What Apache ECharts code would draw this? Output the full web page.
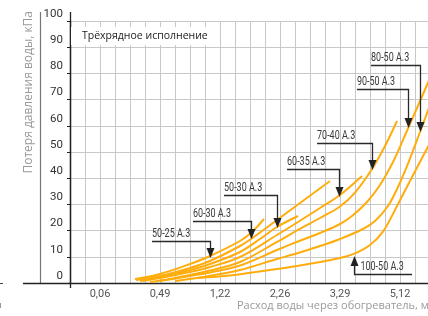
<!DOCTYPE html>
<html>
<head>
<meta charset="utf-8">
<script src="https://cdn.jsdelivr.net/npm/echarts@6/dist/echarts.min.js"></script>
<style>
html,body{margin:0;padding:0;background:#fff;}
#c{width:428px;height:316px;}
</style>
</head>
<body>
<div id="c"></div>
<script>
// ---- data (x in axis grid units, y in kPa) ----
const xTickPos = [2, 6, 10, 14, 18, 22];
const xTickLabels = ['0,06', '0,49', '1,22', '2,26', '3,29', '5,12'];
const seriesNames = ['50-25 A.3', '60-30 A.3', '50-30 A.3', '60-35 A.3', '70-40 A.3', '90-50 A.3', '80-50 A.3', '100-50 A.3'];
const c50_25 = [[4.333,1.53],[6.0,3.44],[8.0,7.25],[9.333,10.31],[11.333,16.03],[12.133,19.47],[12.933,24.43]];
const c60_30 = [[4.4,1.15],[6.0,2.67],[8.0,5.73],[9.333,8.40],[11.333,14.12],[12.067,16.79],[13.8,24.05],[15.2,29.96],[16.333,34.73],[17.333,38.93]];
const c50_30 = [[4.667,0.76],[6.0,2.29],[8.0,4.96],[9.333,7.25],[11.333,11.83],[12.667,16.79],[13.8,21.37],[15.2,25.57]];
const c60_35 = [[4.867,0.76],[6.0,1.91],[8.0,4.20],[9.333,6.11],[11.333,9.92],[13.8,18.32],[15.2,23.28],[16.667,28.63],[18.0,33.59],[19.467,40.84]];
const c70_40 = [[5.333,0.38],[6.667,1.53],[8.0,3.05],[9.333,4.77],[11.333,8.02],[13.8,15.65],[15.2,20.23],[16.667,24.81],[18.0,29.2],[19.0,34.5],[20.133,43.51],[21.0,52.29],[21.8,61.83]];
const c90_50 = [[6.0,0.76],[8.0,2.67],[9.333,4.01],[11.333,6.68],[13.8,12.60],[15.2,15.84],[16.667,19.08],[18.0,22.52],[18.8,25.57],[19.8,30.92],[20.667,37.40],[21.6,46.95],[22.4,57.25],[23.133,66.79],[24.0,78.24]];
const c80_50 = [[7.0,0.76],[8.667,2.10],[11.333,4.96],[13.8,9.16],[15.2,11.45],[16.667,14.12],[18.0,16.79],[19.533,20.61],[20.333,23.66],[21.2,29.39],[21.867,36.64],[22.6,46.56],[23.333,57.63],[24.0,67.94]];
const c100_50 = [[8.533,1.91],[10.667,2.86],[12.867,4.58],[15.133,6.49],[18.0,9.54],[19.0,11.3],[20.0,14.5],[20.867,19.6],[21.8,29.39],[22.667,38.93],[23.4,46.95],[24.0,53.44]];
const curves = [c50_25, c60_30, c50_30, c60_35, c70_40, c90_50, c80_50, c100_50];
// annotation: arrow tip on curve, and far end of the label leader line
const annTips = [[9.33,9.5],[12.07,16.8],[13.8,21.0],[17.93,32.8],[20.13,43.1],[22.53,59.2],[23.33,57.6],[18.93,10.3]];
const annEnds = [[5.47,16.0],[8.2,23.7],[10.27,33.6],[14.47,43.5],[16.47,53.4],[19.13,74.0],[20.07,83.2],[22.8,3.4]];

const chart = echarts.init(document.getElementById('c'), null, {renderer: 'canvas'});
const tickFont = "'Roboto', sans-serif";
const gridColor = '#c8c8c8';
const lineColor = '#FFAD0D';

chart.setOption({
  animation: false,
  backgroundColor: '#fff',
  grid: {left: 70, top: 21, width: 360, bottom: 33, containLabel: false, outerBoundsMode: 'none'},
  xAxis: {
    type: 'value', min: 0, max: 24, interval: 1,
    axisLine: {show: true, onZero: false, lineStyle: {color: '#222', width: 1.3}},
    axisTick: {show: false},
    splitLine: {show: true, lineStyle: {color: gridColor, width: 1}},
    axisLabel: {
      customValues: xTickPos,
      formatter: v => { const i = xTickPos.indexOf(Math.round(v)); return i >= 0 ? xTickLabels[i] : ''; },
      color: '#555', fontFamily: tickFont, fontSize: 11, margin: 6
    }
  },
  yAxis: {
    type: 'value', min: 0, max: 100, interval: 10,
    axisLine: {show: true, lineStyle: {color: '#222', width: 1.3}},
    axisTick: {show: true, length: 3, lineStyle: {color: '#222'}},
    splitLine: {show: true, lineStyle: {color: gridColor, width: 1}},
    axisLabel: {color: '#333', fontFamily: tickFont, fontSize: 11.5, margin: 7, verticalAlign: 'bottom', padding: [0,0,1,0]}
  },
  series: curves.map((d, i) => ({
    name: seriesNames[i], type: 'line', data: d, smooth: 0.35,
    symbol: 'none', lineStyle: {color: lineColor, width: 2}, z: 3
  }))
});

const els = [];
// decorative frame pieces
els.push({type: 'line', shape: {x1: 40.5, y1: 12, x2: 40.5, y2: 283}, style: {stroke: '#777', lineWidth: 1.2}, silent: true});
els.push({type: 'line', shape: {x1: 70.5, y1: 12, x2: 70.5, y2: 288}, style: {stroke: '#222', lineWidth: 1.3}, silent: true});
els.push({type: 'line', shape: {x1: 23, y1: 283.5, x2: 71, y2: 283.5}, style: {stroke: '#222', lineWidth: 1.3}, silent: true});
els.push({type: 'line', shape: {x1: 0, y1: 283.5, x2: 3, y2: 283.5}, style: {stroke: '#444', lineWidth: 1}, silent: true});
els.push({type: 'line', shape: {x1: 0.5, y1: 303, x2: 0.5, y2: 308}, style: {stroke: '#999', lineWidth: 1}, silent: true});
// title box
els.push({type: 'rect', shape: {x: 71, y: 27, width: 141, height: 18}, style: {fill: '#fff'}, z: 10, silent: true});
els.push({type: 'text', x: 82, y: 36, z: 11, style: {text: 'Трёхрядное исполнение', font: "10.5px 'Open Sans', sans-serif", fill: '#222', textAlign: 'left', textVerticalAlign: 'middle'}});
// axis names
els.push({type: 'text', x: 29, y: 11, rotation: Math.PI / 2, style: {text: 'Потеря давления воды, кПа', font: "12px 'Open Sans', sans-serif", fill: '#9a9a9a', textAlign: 'right', textVerticalAlign: 'middle'}});
els.push({type: 'text', x: 237, y: 306, style: {text: 'Расход воды через обогреватель, м³', font: "11px 'Open Sans', sans-serif", fill: '#9a9a9a', textAlign: 'left', textVerticalAlign: 'middle'}});

// annotations
seriesNames.forEach((name, i) => {
  const tip = chart.convertToPixel({gridIndex: 0}, annTips[i]);
  const end = chart.convertToPixel({gridIndex: 0}, annEnds[i]);
  const up = end[1] > tip[1];
  const tx = Math.round(tip[0]) + 0.5;
  const ly = Math.round(end[1]) + 0.5;
  const h = 10, w = 4;
  els.push({type: 'polyline', z: 20, shape: {points: [[end[0], ly], [tx, ly], [tx, up ? tip[1] + h : tip[1] - h]]}, style: {stroke: '#2a2a2a', lineWidth: 1.3, fill: null}, silent: true});
  els.push({type: 'polygon', z: 20, shape: {points: up ? [[tx, tip[1]], [tx - w, tip[1] + h], [tx + w, tip[1] + h]] : [[tx, tip[1]], [tx - w, tip[1] - h], [tx + w, tip[1] - h]]}, style: {fill: '#222'}, silent: true});
  const textX = end[0] < tip[0] ? end[0] : tx + 6;
  els.push({type: 'text', z: 20, x: textX, y: ly - 1.5, scaleX: 0.69, style: {text: name, font: "13px 'Roboto', sans-serif", fill: '#3a3a3a', textAlign: 'left', textVerticalAlign: 'bottom'}});
});

chart.setOption({graphic: els});
</script>
</body>
</html>
